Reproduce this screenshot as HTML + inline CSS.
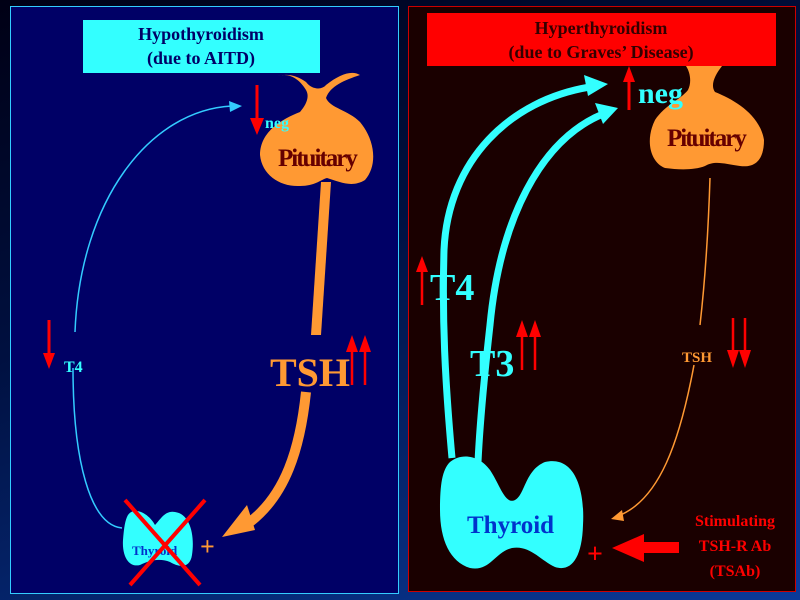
<!DOCTYPE html>
<html><head><style>
html,body{margin:0;padding:0;width:800px;height:600px;overflow:hidden;background:linear-gradient(160deg,#000015 0%,#001040 40%,#0a3a9a 100%);}
svg{display:block}
text{font-family:"Liberation Serif",serif;font-weight:bold}
</style></head><body>
<svg width="800" height="600" viewBox="0 0 800 600">
<!-- left panel -->
<rect x="10.5" y="6.5" width="388" height="587" fill="#000066" stroke="#33ccff" stroke-width="1"/>
<rect x="83" y="20" width="237" height="53" fill="#33ffff"/>
<text x="201" y="40" font-size="18" fill="#000066" text-anchor="middle">Hypothyroidism</text>
<text x="201" y="64" font-size="18" fill="#000066" text-anchor="middle">(due to AITD)</text>
<!-- pituitary left -->
<path d="M278,76 C290,72 300,80 306,90 C310,97 306,105 300,112 C285,118 260,130 260,155 C262,175 280,187 300,186 C315,186 320,180 327,178 C340,182 352,188 365,180 C378,165 375,140 360,122 C348,110 330,108 326,98 C330,86 345,80 360,75 C352,70 340,74 326,85 C322,90 312,90 306,82 C298,76 288,73 278,76Z" fill="#ff9933"/>
<path d="M321,182 L331,182 L321,335 L311,335Z" fill="#ff9933"/>
<text x="278" y="166" font-size="25" fill="#660000" letter-spacing="-2">Pituitary</text>
<line x1="257" y1="85" x2="257" y2="120" stroke="#ff0000" stroke-width="3"/>
<polygon points="250,118 264,118 257,135" fill="#ff0000"/>
<text x="265" y="128" font-size="16" fill="#33ffff">neg</text>
<!-- T4 thin -->
<path d="M75,332 C80,200 150,110 232,106" fill="none" stroke="#33ccff" stroke-width="1.5"/>
<polygon points="242,106 229,101 230,112" fill="#33ccff"/>
<path d="M73,368 C73,460 90,525 122,528" fill="none" stroke="#33ccff" stroke-width="1.5"/>
<line x1="49" y1="320" x2="49" y2="355" stroke="#ff0000" stroke-width="3"/>
<polygon points="43,353 55,353 49,369" fill="#ff0000"/>
<text x="64" y="372" font-size="16" fill="#33ffff">T4</text>
<!-- TSH -->
<text x="270" y="386" font-size="40" fill="#ff9933">TSH</text>
<line x1="352" y1="350" x2="352" y2="385" stroke="#ff0000" stroke-width="2.5"/>
<polygon points="346,352 358,352 352,335" fill="#ff0000"/>
<line x1="365" y1="350" x2="365" y2="385" stroke="#ff0000" stroke-width="2.5"/>
<polygon points="359,352 371,352 365,335" fill="#ff0000"/>
<path d="M306,392 C300,450 285,495 250,522" fill="none" stroke="#ff9933" stroke-width="10"/>
<polygon points="222,537 247,505 255,530" fill="#ff9933"/>
<text x="200" y="555" font-size="26" fill="#ff9933">+</text>
<!-- thyroid left -->
<path d="M128,515 C135,505 150,515 155,525 C160,520 165,510 175,512 C190,514 195,535 192,555 C190,568 180,568 170,562 C160,558 150,560 140,565 C128,568 122,555 123,540 C124,528 125,520 128,515Z" fill="#33ffff"/>
<text x="132" y="555" font-size="13" fill="#0033cc">Thyroid</text>
<line x1="125" y1="500" x2="200" y2="585" stroke="#ff0000" stroke-width="4"/>
<line x1="205" y1="500" x2="130" y2="585" stroke="#ff0000" stroke-width="4"/>

<!-- right panel -->
<rect x="408.5" y="6.5" width="387" height="585" fill="#1a0000" stroke="#cc0000" stroke-width="1"/>
<rect x="427" y="13" width="349" height="53" fill="#ff0000"/>
<text x="601" y="34" font-size="18" fill="#330000" text-anchor="middle">Hyperthyroidism</text>
<text x="601" y="58" font-size="18" fill="#330000" text-anchor="middle">(due to Graves’ Disease)</text>
<!-- pituitary right -->
<path d="M686,66 L722,66 C715,75 710,85 715,92 C735,100 760,115 764,140 C764,160 755,168 740,166 C725,164 715,160 705,166 C695,170 680,170 665,168 C650,162 645,140 655,120 C665,105 680,100 688,90 C692,82 690,72 686,66Z" fill="#ff9933"/>
<text x="667" y="146" font-size="25" fill="#660000" letter-spacing="-2">Pituitary</text>
<line x1="629" y1="80" x2="629" y2="110" stroke="#ff0000" stroke-width="3"/>
<polygon points="623,82 635,82 629,66" fill="#ff0000"/>
<text x="638" y="103" font-size="30" fill="#33ffff">neg</text>
<!-- T4 / T3 thick arrows -->
<path d="M452,458 C445,380 442,320 444,250 C448,160 510,100 590,87" fill="none" stroke="#33ffff" stroke-width="7"/>
<polygon points="608,84 584,75 588,96" fill="#33ffff"/>
<path d="M478,462 C480,420 485,370 490,325 C500,220 540,140 603,114" fill="none" stroke="#33ffff" stroke-width="7"/>
<polygon points="618,108 595,103 603,124" fill="#33ffff"/>
<rect x="460" y="325" width="60" height="28" fill="#1a0000" opacity="0"/>
<text x="430" y="300" font-size="38" fill="#33ffff">T4</text>
<line x1="422" y1="270" x2="422" y2="305" stroke="#ff0000" stroke-width="2.5"/>
<polygon points="416,272 428,272 422,256" fill="#ff0000"/>
<text x="470" y="376" font-size="38" fill="#33ffff">T3</text>
<line x1="522" y1="335" x2="522" y2="370" stroke="#ff0000" stroke-width="2.5"/>
<polygon points="516,337 528,337 522,320" fill="#ff0000"/>
<line x1="535" y1="335" x2="535" y2="370" stroke="#ff0000" stroke-width="2.5"/>
<polygon points="529,337 541,337 535,320" fill="#ff0000"/>
<!-- TSH thin -->
<path d="M710,178 C708,240 704,290 700,325" fill="none" stroke="#ff9933" stroke-width="1.5"/>
<path d="M694,365 C680,440 660,500 618,516" fill="none" stroke="#ff9933" stroke-width="1.5"/>
<polygon points="611,519 622,510 624,521" fill="#ff9933"/>
<text x="682" y="362" font-size="15" fill="#ff9933">TSH</text>
<line x1="733" y1="318" x2="733" y2="352" stroke="#ff0000" stroke-width="2.5"/>
<polygon points="727,350 739,350 733,368" fill="#ff0000"/>
<line x1="745" y1="318" x2="745" y2="352" stroke="#ff0000" stroke-width="2.5"/>
<polygon points="739,350 751,350 745,368" fill="#ff0000"/>
<!-- thyroid right -->
<path d="M450,462 C462,452 480,456 490,470 C500,485 505,505 515,500 C525,495 525,470 545,462 C575,455 585,490 583,525 C582,560 570,572 555,567 C540,560 530,545 512,548 C495,552 490,572 470,568 C450,562 440,540 440,510 C440,485 442,470 450,462Z" fill="#33ffff"/>
<text x="467" y="533" font-size="25" fill="#0033cc">Thyroid</text>
<text x="587" y="563" font-size="28" fill="#ff0000">+</text>
<polygon points="612,548 644,534 644,542 679,542 679,553 644,553 644,562" fill="#ff0000"/>
<text x="735" y="526" font-size="16" fill="#ff0000" text-anchor="middle">Stimulating</text>
<text x="735" y="551" font-size="16" fill="#ff0000" text-anchor="middle">TSH-R Ab</text>
<text x="735" y="576" font-size="16" fill="#ff0000" text-anchor="middle">(TSAb)</text>
</svg>
</body></html>
